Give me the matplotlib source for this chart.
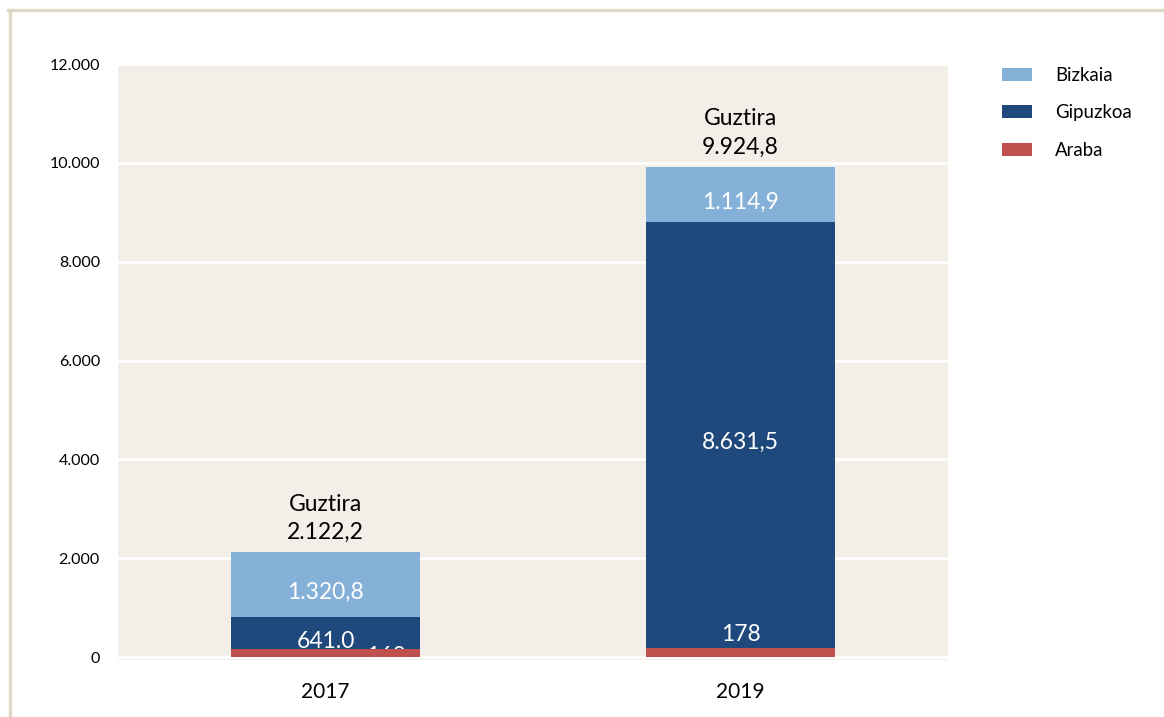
import matplotlib
matplotlib.use("Agg")
import matplotlib.pyplot as plt
from matplotlib.patches import Patch
from matplotlib.lines import Line2D
import matplotlib.transforms as mtransforms

# ---- data ----
years = ["2017", "2019"]
araba = [160.4, 178.4]
gipuzkoa = [641.0, 8631.5]
bizkaia = [1320.8, 1114.9]
araba_labels = ["160", "178"]
gipuzkoa_labels = ["641.0", "8.631,5"]
bizkaia_labels = ["1.320,8", "1.114,9"]
total_labels = ["2.122,2", "9.924,8"]
yticks = [0, 2000, 4000, 6000, 8000, 10000, 12000]
ytick_labels = ["0", "2.000", "4.000", "6.000", "8.000", "10.000", "12.000"]
series_names = ["Bizkaia", "Gipuzkoa", "Araba"]

# ---- style ----
C_BIZ = "#85B0D8"
C_GIP = "#1F497D"
C_ARA = "#C0504D"
BG = "#F3EFE8"
FONT = ["Lato", "DejaVu Sans"]
plt.rcParams["font.family"] = FONT

W, H = 1164, 717
fig = plt.figure(figsize=(W / 100, H / 100), dpi=100)
fig.patch.set_facecolor("white")

ax = fig.add_axes([118 / W, 1 - 660 / H, (948 - 118) / W, (660 - 64) / H])
ax.set_facecolor(BG)
for s in ax.spines.values():
    s.set_visible(False)

x = list(range(len(years)))
bw = 0.455
ax.bar(x, gipuzkoa, bw, bottom=araba, color=C_GIP, zorder=2)
bottoms_b = [a + g for a, g in zip(araba, gipuzkoa)]
ax.bar(x, bizkaia, bw, bottom=bottoms_b, color=C_BIZ, zorder=2)
ax.bar(x, araba, bw, color=C_ARA, zorder=4)

ax.set_xlim(-0.5, 1.5)
ax.set_ylim(-60, 12000)
ax.set_yticks(yticks)
ax.set_yticklabels(ytick_labels, fontsize=11.5)
ax.set_xticks(x)
ax.set_xticklabels(years, fontsize=15)
ax.tick_params(axis="y", length=0, pad=13)
ax.tick_params(axis="x", length=0, pad=16)
ax.grid(axis="y", color="white", linewidth=2, zorder=1)
ax.set_axisbelow(True)

def off(dx, dy):
    return mtransforms.offset_copy(ax.transData, fig=fig, x=dx, y=dy, units="dots")

LBL = 16.5
for i in x:
    yb = bottoms_b[i] + bizkaia[i] / 2
    ax.text(i, yb, bizkaia_labels[i], transform=off(0, -8), ha="center", va="center",
            color="white", fontsize=LBL, zorder=3)
gip_off = [(0, -8), (0, -7)]
for i in x:
    yg = araba[i] + gipuzkoa[i] / 2
    ax.text(i, yg, gipuzkoa_labels[i], transform=off(*gip_off[i]), ha="center", va="center",
            color="white", fontsize=LBL, zorder=3)
ara_off = [(60, -3), (0, 18)]
for i in x:
    ya = araba[i] / 2
    ax.text(i, ya, araba_labels[i], transform=off(*ara_off[i]), ha="center", va="center",
            color="white", fontsize=LBL, zorder=3)

for i in x:
    top = araba[i] + gipuzkoa[i] + bizkaia[i]
    ax.text(i, top, "Guztira\n" + total_labels[i], transform=off(0, 9), ha="center",
            va="bottom", color="black", fontsize=LBL, linespacing=1.42, zorder=5)

handles = [Patch(facecolor=C_BIZ), Patch(facecolor=C_GIP), Patch(facecolor=C_ARA)]
fig.legend(handles, series_names, loc="upper left",
           bbox_to_anchor=(1002 / W, 1 - 67 / H), frameon=False, fontsize=13.4,
           handlelength=1.61, handleheight=0.7, handletextpad=1.24,
           labelspacing=1.1, borderpad=0, borderaxespad=0)

fc = "#DDD9C4"
fig.add_artist(Line2D([9.5 / W, 9.5 / W], [0, 1 - 9.5 / H], transform=fig.transFigure,
                      color=fc, linewidth=2.4))
fig.add_artist(Line2D([8 / W, 1], [1 - 9.5 / H, 1 - 9.5 / H], transform=fig.transFigure,
                      color=fc, linewidth=2.4))

fig.savefig("out.png", dpi=100, facecolor="white")
